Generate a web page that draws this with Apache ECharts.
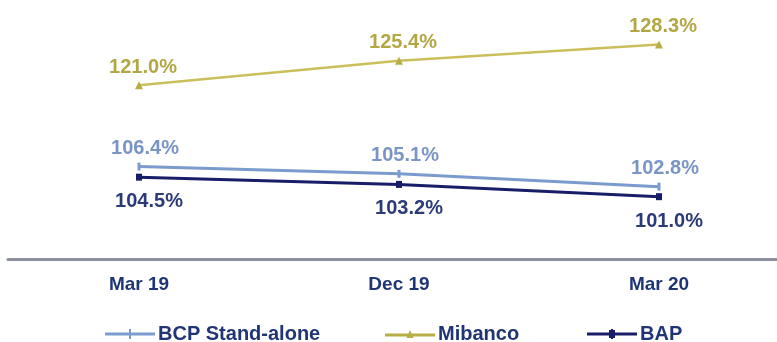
<!DOCTYPE html>
<html>
<head>
<meta charset="utf-8">
<script src="https://cdn.jsdelivr.net/npm/echarts@6/dist/echarts.min.js"></script>
<style>
  html, body { margin: 0; padding: 0; background: #ffffff; }
  #chart { width: 777px; height: 342px; }
</style>
</head>
<body>
<div id="chart"></div>
<script>
// Periods on the x axis
const periods = ['Mar 19', 'Dec 19', 'Mar 20'];

// Ratios (%) per entity
const bcpStandAlone = [106.4, 105.1, 102.8];
const mibanco = [121.0, 125.4, 128.3];
const bap = [104.5, 103.2, 101.0];

const FONT = '"Liberation Sans", Arial, sans-serif';

// Legend swatches: a line with the series marker in the middle (50 x 10 box)
const ICON_TICK = 'path://M0,3.6L50,3.6L50,6.4L0,6.4Z M24,0L26,0L26,10L24,10Z';
const ICON_TRIANGLE = 'path://M0,3.6L50,3.6L50,6.4L0,6.4Z M21.5,8L25,0L28.5,8Z';
const ICON_SQUARE = 'path://M0,3.4L50,3.4L50,6.6L0,6.6Z M22,1L28,1L28,9L22,9Z M24,0L26,0L26,10L24,10Z';

function pctLabel(color, position, distance, dx) {
  return {
    show: true,
    position: position,
    distance: distance,
    offset: [dx, 0],
    color: color,
    fontFamily: FONT,
    fontWeight: 'bold',
    fontSize: 20,
    formatter: p => p.value.toFixed(1) + '%'
  };
}

function legendAt(name, icon, left) {
  return {
    data: [{ name: name, icon: icon }],
    left: left,
    top: 324,
    itemWidth: 50,
    itemHeight: 10,
    itemGap: 0,
    padding: 0,
    textStyle: {
      color: '#1f3576',
      fontFamily: FONT,
      fontWeight: 'bold',
      fontSize: 20,
      padding: [0, 0, 0, -2]
    }
  };
}

const chart = echarts.init(document.getElementById('chart'));
chart.setOption({
  animation: false,
  backgroundColor: '#ffffff',
  grid: [
    // plotting area: first and last period sit at its edges
    { left: 139, right: 118, top: 35, bottom: 84 },
    // full-width baseline
    { left: 8, right: 0, top: 35, bottom: 83 }
  ],
  legend: [
    legendAt('BCP Stand-alone', ICON_TICK, 105),
    legendAt('Mibanco', ICON_TRIANGLE, 385),
    legendAt('BAP', ICON_SQUARE, 587)
  ],
  xAxis: [
    {
      type: 'category',
      gridIndex: 0,
      data: periods,
      boundaryGap: false,
      axisLine: { show: false },
      axisTick: { show: false },
      splitLine: { show: false },
      axisLabel: {
        margin: 17,
        color: '#1f3576',
        fontFamily: FONT,
        fontWeight: 'bold',
        fontSize: 19
      }
    },
    {
      type: 'value',
      gridIndex: 1,
      min: 0,
      max: 1,
      axisLine: { show: true, lineStyle: { color: '#8b8f9e', width: 3 } },
      axisTick: { show: false },
      axisLabel: { show: false },
      splitLine: { show: false }
    }
  ],
  yAxis: [
    { type: 'value', gridIndex: 0, min: 90, max: 130, show: false, splitLine: { show: false } },
    { type: 'value', gridIndex: 1, min: 0, max: 1, show: false, splitLine: { show: false } }
  ],
  series: [
    {
      name: 'BCP Stand-alone',
      type: 'line',
      data: bcpStandAlone,
      symbol: 'rect',
      symbolSize: [3, 8],
      color: '#7b9bcf',
      lineStyle: { width: 3, color: '#7b9bcf' },
      itemStyle: { color: '#7b9bcf' },
      label: pctLabel('#7895c6', 'top', 4, 6),
      z: 3
    },
    {
      name: 'Mibanco',
      type: 'line',
      data: mibanco,
      symbol: 'triangle',
      symbolSize: 8,
      color: '#cbbf5c',
      lineStyle: { width: 2.5, color: '#cbbf5c' },
      itemStyle: { color: '#b9ad45' },
      label: pctLabel('#b3a745', 'top', 4, 4),
      z: 2
    },
    {
      name: 'BAP',
      type: 'line',
      data: bap,
      symbol: 'rect',
      symbolSize: [6, 7],
      color: '#181d68',
      lineStyle: { width: 3, color: '#181d68' },
      itemStyle: { color: '#181d68' },
      label: pctLabel('#2b3a78', 'bottom', 11, 10),
      z: 4
    }
  ]
});
</script>
</body>
</html>
